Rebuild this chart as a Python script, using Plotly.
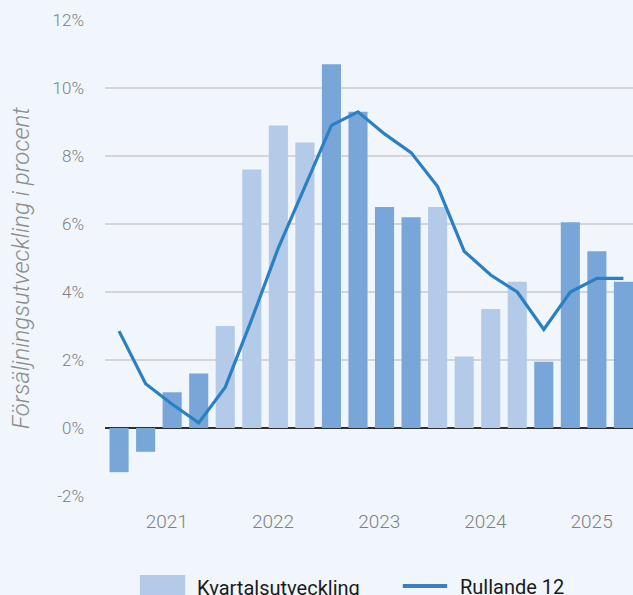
import plotly.graph_objects as go

# --- data
kvartal = ["2021 Q1", "2021 Q2", "2021 Q3", "2021 Q4",
           "2022 Q1", "2022 Q2", "2022 Q3", "2022 Q4",
           "2023 Q1", "2023 Q2", "2023 Q3", "2023 Q4",
           "2024 Q1", "2024 Q2", "2024 Q3", "2024 Q4",
           "2025 Q1", "2025 Q2", "2025 Q3", "2025 Q4"]
kvartalsutveckling = [-1.3, -0.7, 1.05, 1.6,
                      3.0, 7.6, 8.9, 8.4,
                      10.7, 9.3, 6.5, 6.2,
                      6.5, 2.1, 3.5, 4.3,
                      1.95, 6.05, 5.2, 4.3]
rullande_12 = [2.85, 1.3, 0.7, 0.15,
               1.2, 3.2, 5.3, 7.1,
               8.9, 9.3, 8.65, 8.1,
               7.1, 5.2, 4.5, 4.0,
               2.9, 4.0, 4.4, 4.4]
ar = ["2021", "2022", "2023", "2024", "2025"]
y_ticks = [-2, 0, 2, 4, 6, 8, 10, 12]
y_ticktext = ["-2%", "0%", "2%", "4%", "6%", "8%", "10%", "12%"]

# --- colours
bg = "#f1f6fc"
ljus = "#b3cbe8"
mork = "#79a6d9"
linje = "#2a80c3"
grid = "#d3d5d8"

x = list(range(len(kvartal)))
farger = [mork if int(k[:4]) % 2 == 1 else ljus for k in kvartal]
tick_pos = [i * 4 + 1.8 for i in range(len(ar))]

fig = go.Figure()
fig.add_trace(
    go.Bar(x=x, y=kvartalsutveckling, name="Kvartalsutveckling",
           marker_color=farger, marker_line_width=0, hovertext=kvartal)
)
fig.add_trace(
    go.Scatter(x=x, y=rullande_12, name="Rullande 12", mode="lines",
               line=dict(color=linje, width=3.2), hovertext=kvartal)
)

fig.update_layout(
    width=633, height=595,
    margin=dict(l=105, r=0, t=20, b=99),
    paper_bgcolor=bg, plot_bgcolor=bg,
    showlegend=False,
    bargap=0.28,
    font=dict(family="Roboto", color="#7f7f7f"),
)
fig.update_xaxes(
    range=[-0.53, 19.36], showgrid=False, zeroline=False,
    tickmode="array", tickvals=tick_pos, ticktext=ar,
    tickfont=dict(size=19, color="#808080", weight=300),
    ticks="", ticklabelstandoff=12,
)
fig.update_yaxes(
    range=[-2, 12], tickmode="array", tickvals=y_ticks, ticktext=y_ticktext,
    showgrid=True, gridcolor=grid, gridwidth=1.5,
    zeroline=True, zerolinecolor="#2e2e2e", zerolinewidth=2,
    tickfont=dict(size=17, color="#808080", weight=300),
    ticks="", ticklabelstandoff=20,
)

# y-axis title as annotation (placed a bit below the plot centre, like the original)
fig.add_annotation(text="Försäljningsutveckling i procent", xref="paper", yref="paper",
                   x=-0.159, y=0.479, textangle=-90, showarrow=False,
                   xanchor="center", yanchor="middle",
                   font=dict(size=24, color="#8c8c8c", style="italic", weight=300))

# legend drawn by hand so the symbol sizes match
fig.add_shape(type="rect", xref="paper", yref="paper",
              x0=0.066, x1=0.152, y0=-0.166, y1=-0.23,
              fillcolor=ljus, line_width=0)
fig.add_shape(type="line", xref="paper", yref="paper",
              x0=0.564, x1=0.648, y0=-0.189, y1=-0.189,
              line=dict(color="#3b7fc0", width=4))
fig.add_annotation(text="Kvartalsutveckling", xref="paper", yref="paper",
                   x=0.170, y=-0.193, xanchor="left", yanchor="middle",
                   showarrow=False, font=dict(size=20, color="#1a1a1a"))
fig.add_annotation(text="Rullande 12", xref="paper", yref="paper",
                   x=0.669, y=-0.191, xanchor="left", yanchor="middle",
                   showarrow=False, font=dict(size=20, color="#1a1a1a"))

fig.write_html("out.html", config={"displayModeBar": False},
               post_script="document.body.style.margin='0';"
                           "document.body.style.overflow='hidden';")
